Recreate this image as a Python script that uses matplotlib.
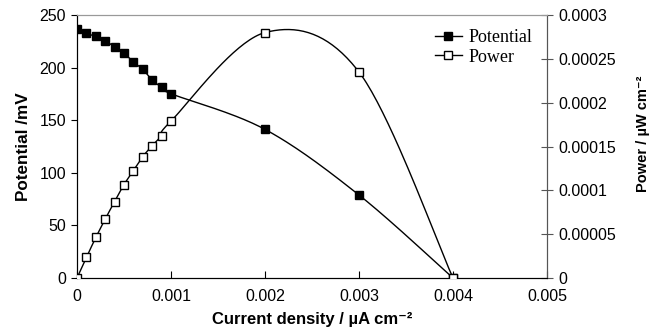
import numpy as np
import matplotlib.pyplot as plt

plt.rcParams['font.family'] = ['Liberation Sans', 'DejaVu Sans']

# current density / uA cm-2
current = [0, 0.0001, 0.0002, 0.0003, 0.0004, 0.0005, 0.0006, 0.0007,
           0.0008, 0.0009, 0.001, 0.002, 0.003, 0.004]
# potential / mV
potential = [236.7, 232.5, 229.7, 225.6, 219.6, 213.9, 205.3, 198.4,
             188.2, 181.3, 175.2, 141.3, 78.9, 0]
# power / uW cm-2
power = [0, 2.35e-5, 4.62e-5, 6.72e-5, 8.72e-5, 1.065e-4, 1.225e-4, 1.385e-4,
         1.51e-4, 1.625e-4, 1.79e-4, 2.80e-4, 2.35e-4, 0]

x_ticks = [0, 0.001, 0.002, 0.003, 0.004, 0.005]
x_labels = ['0', '0.001', '0.002', '0.003', '0.004', '0.005']
pot_ticks = [0, 50, 100, 150, 200, 250]
pow_ticks = [0, 0.00005, 0.0001, 0.00015, 0.0002, 0.00025, 0.0003]
pow_labels = ['0', '0.00005', '0.0001', '0.00015', '0.0002', '0.00025', '0.0003']

XMAX = 0.005
W_PX, H_PX = 470.0, 263.0


def SmoothLine(xs, ys, ymax, n=40):
    # excel style smoothing: bezier with control points from neighbours (1/6)
    px = np.array(xs) / XMAX * W_PX
    py = np.array(ys) / ymax * H_PX
    pts = np.column_stack([px, py])
    out = []
    m = len(pts)
    for i in range(m - 1):
        p0 = pts[i - 1] if i > 0 else pts[i]
        p1 = pts[i]
        p2 = pts[i + 1]
        p3 = pts[i + 2] if i + 2 < m else pts[i + 1]
        b1 = p1 + (p2 - p0) / 6.0
        b2 = p2 - (p3 - p1) / 6.0
        t = np.linspace(0, 1, n)[:, None]
        seg = ((1 - t) ** 3) * p1 + 3 * ((1 - t) ** 2) * t * b1 + 3 * (1 - t) * t ** 2 * b2 + t ** 3 * p2
        out.append(seg)
    out = np.vstack(out)
    return out[:, 0] / W_PX * XMAX, out[:, 1] / H_PX * ymax


fig = plt.figure(figsize=(6.61, 3.34), dpi=100)
ax = fig.add_axes([0.1165, 0.1677, 0.711, 0.7873])
ax2 = ax.twinx()

sx, sy = SmoothLine(current, potential, 250)
ax.plot(sx, sy, color='black', lw=1.0, zorder=2)
ax.plot(current, potential, ls='none', marker='s', ms=6.2, mfc='black', mec='black', zorder=3)

qx, qy = SmoothLine(current, power, 0.0003)
ax2.plot(qx, qy, color='black', lw=1.0, zorder=2)
ax2.plot(current, power, ls='none', marker='s', ms=6.2, mfc='white', mec='black', mew=1.0, zorder=3)

ax.set_xlim(0, XMAX)
ax.set_ylim(0, 250)
ax2.set_ylim(0, 0.0003)

ax.set_xticks(x_ticks)
ax.set_xticklabels(x_labels)
ax.set_yticks(pot_ticks)
ax2.set_yticks(pow_ticks)
ax2.set_yticklabels(pow_labels)

ax.tick_params(axis='x', direction='in', length=5, labelsize=11.5, pad=8, color='black')
ax.tick_params(axis='y', direction='out', length=4, labelsize=11.5, pad=4)
ax2.tick_params(axis='y', direction='inout', length=8, labelsize=11.5, pad=4, color='#555555')

for a in (ax, ax2):
    a.spines['top'].set_color('#999999')
    a.spines['right'].set_color('#555555')
    a.spines['left'].set_color('black')
    a.spines['bottom'].set_color('black')

ax.set_xlabel('Current density / \u00b5A cm\u207b\u00b2', fontsize=12, fontweight='bold', labelpad=6)
ax.set_ylabel('Potential /mV', fontsize=12.3, fontweight='bold', labelpad=6)
ax2.set_ylabel('Power / \u00b5W cm\u207b\u00b2', fontsize=10.5, fontweight='bold')
ax2.yaxis.set_label_coords(1.19, 0.548)

h1, = ax.plot([], [], color='black', lw=1.0, marker='s', ms=6.2, mfc='black', mec='black')
h2, = ax.plot([], [], color='black', lw=1.0, marker='s', ms=6.2, mfc='white', mec='black')
ax.legend([h1, h2], ['Potential', 'Power'], loc='upper right', bbox_to_anchor=(0.995, 0.995),
          frameon=False, prop={'family': 'Liberation Serif', 'size': 13},
          handlelength=1.5, handletextpad=0.35, labelspacing=0.15, borderpad=0.2)

fig.savefig('out.png', dpi=100)
